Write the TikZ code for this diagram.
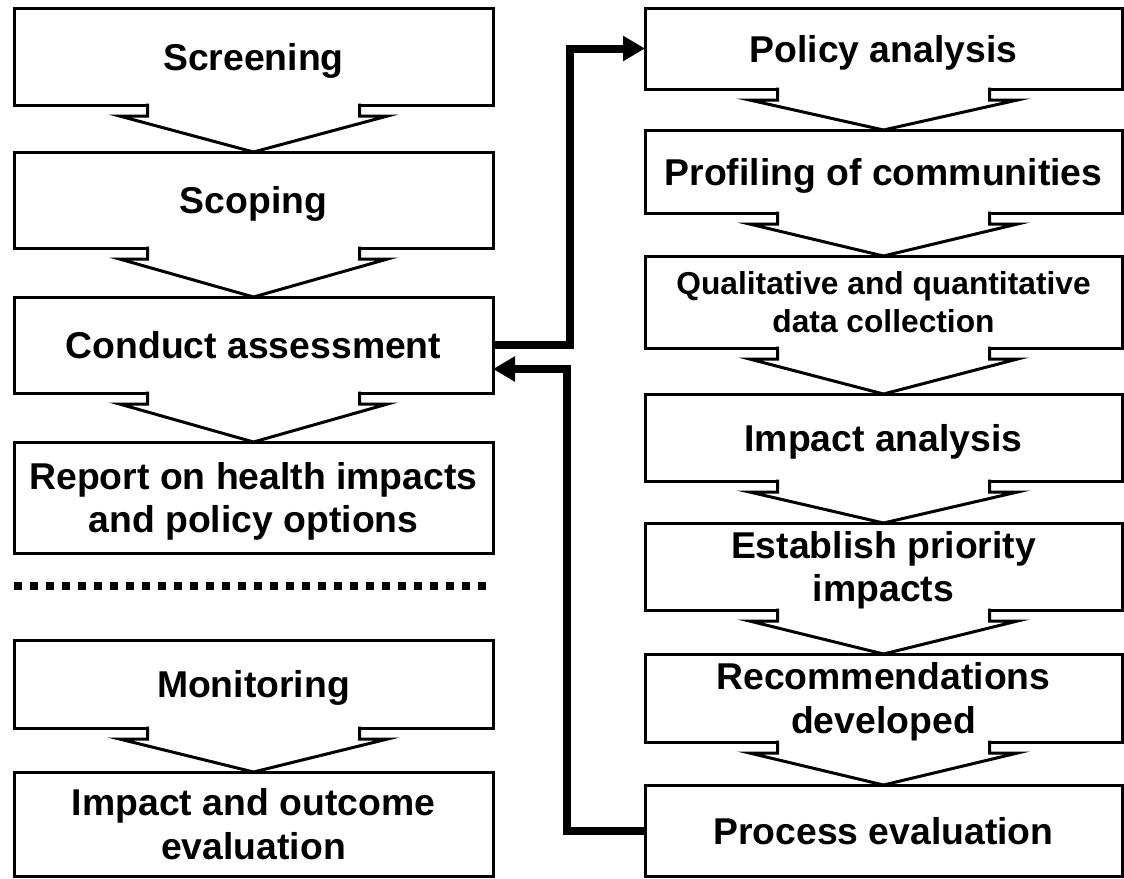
\documentclass[tikz,border=0pt]{standalone}
\usepackage{fontspec}
\setmainfont{Liberation Sans}
\usetikzlibrary{calc,arrows.meta}

\begin{document}
\begin{tikzpicture}[x=0.75pt, y=-0.75pt, line width=2.25pt,
    stage/.style = {draw, rectangle, outer sep=0pt, inner sep=0pt, align=center,
        text depth=0pt, font=\fontsize{28}{32.5}\selectfont\bfseries},
    left/.style = {stage, minimum width=479*0.75pt},
    right/.style = {stage, minimum width=477*0.75pt},
    link/.style = {line width=6pt, line join=miter, -{Triangle[length=16.5pt, width=18pt]}},
    sepline/.style = {line width=6pt, dash pattern=on 6pt off 6pt}]
    \useasboundingbox (0,0) rectangle (1124,878);
    % left column
    \node[left, minimum height=97*0.75pt] (screen) at (253.5,56.5) {Screening};
    \node[left, minimum height=96*0.75pt] (scope) at (253.5,200) {Scoping};
    \node[left, minimum height=96*0.75pt] (conduct) at (253.5,345) {Conduct assessment};
    \node[left, minimum height=111*0.75pt] (report) at (253.5,497.5) {Report on health impacts\\and policy options};
    \node[left, minimum height=88*0.75pt] (monitor) at (253.5,684) {Monitoring};
    \node[left, minimum height=104*0.75pt] (outcome) at (253.5,824) {Impact and outcome\\evaluation};
    \draw[sepline] (14,586) -- (486,586);
    % right column
    \node[right, minimum height=81*0.75pt] (policy) at (883.5,48.5) {Policy analysis};
    \node[right, minimum height=83*0.75pt] (profile) at (883.5,171.5) {Profiling of communities};
    \node[right, minimum height=92*0.75pt, font=\fontsize{23.8}{28.5}\selectfont\bfseries] (data) at (883.5,302) {Qualitative and quantitative\\data collection};
    \node[right, minimum height=87*0.75pt] (impact) at (883.5,437.5) {Impact analysis};
    \node[right, minimum height=87*0.75pt] (priority) at (883.5,566.5) {Establish priority\\impacts};
    \node[right, minimum height=88*0.75pt] (recommend) at (883.5,698) {Recommendations\\developed};
    \node[right, minimum height=91*0.75pt] (process) at (883.5,830.5) {Process evaluation};
    % arrow tails under the boxes
    \foreach \a/\b in {screen/scope, scope/conduct, conduct/report, monitor/outcome,
        policy/profile, profile/data, data/impact, impact/priority,
        priority/recommend, recommend/process}
        \filldraw[fill=white] ($(\a.south)+(-106,-1.5)$) -- ++(0,12.5) -- ++(-28,0)
            -- (\b.north) -- ($(\a.south)+(134,11)$) -- ++(-28,0) -- ++(0,-12.5);
    % links between the columns
    \draw[link] (conduct.east) -- ++(77,0) |- (policy.west);
    \draw[link] (process.west) -- ++(-78,0) |- ($(conduct.east)+(0,24)$);
\end{tikzpicture}
\end{document}
